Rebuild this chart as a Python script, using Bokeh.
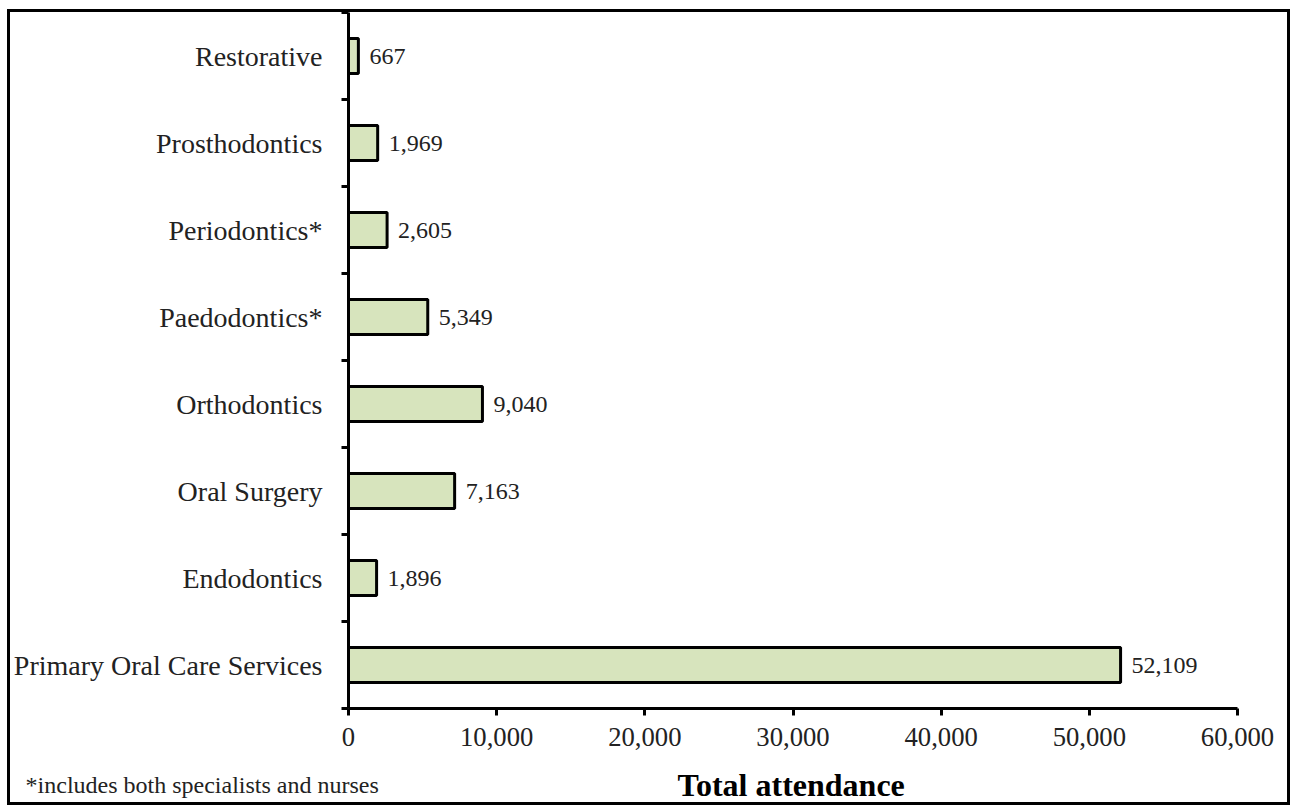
from bokeh.plotting import figure
from bokeh.layouts import column
from bokeh.models import (Range1d, FixedTicker, NumeralTickFormatter, Label,
                          ColumnDataSource)
from bokeh.core.properties import value
from bokeh.embed import file_html
from bokeh.resources import INLINE

# ---- data (bottom to top) ----
categories = ["Primary Oral Care Services", "Endodontics", "Oral Surgery",
              "Orthodontics", "Paedodontics*", "Periodontics*",
              "Prosthodontics", "Restorative"]
attendance = [52109, 1896, 7163, 9040, 5349, 2605, 1969, 667]
x_ticks = [0, 10000, 20000, 30000, 40000, 50000, 60000]
x_title = "Total attendance"
footnote = "*includes both specialists and nurses"

FONT = "Liberation Serif"
n = len(categories)
centers = [i + 0.5 for i in range(n)]
bounds = [i for i in range(n + 1)]

src = ColumnDataSource(dict(
    y=centers, v=attendance,
    lbl=[f"{a:,}" for a in attendance],
))

W = 1283
p = figure(width=W, height=754, output_backend="svg", toolbar_location=None,
           x_range=Range1d(0, 60000), y_range=Range1d(0, n),
           min_border_left=338, min_border_right=56, min_border_top=0,
           min_border_bottom=58)
p.frame_align = False
p.styles = {"border": "3px solid black", "border-bottom": "none"}
p.outline_line_color = None
p.xgrid.visible = False
p.ygrid.visible = False

p.hbar(y="y", right="v", left=0, height=0.4, source=src,
       fill_color="#D7E4BD", line_color="black", line_width=3)
p.text(x="v", y="y", text="lbl", source=src, x_offset=11,
       text_baseline="middle", text_align="left",
       text_font=value(FONT), text_font_size="18pt", text_color="#222222")

# x axis
xa = p.xaxis[0]
xa.ticker = FixedTicker(ticks=x_ticks)
xa.formatter = NumeralTickFormatter(format="0,0")
xa.axis_line_width = 3
xa.major_tick_line_width = 3
xa.major_tick_out = 7
xa.major_tick_in = 0
xa.minor_tick_line_color = None
xa.major_label_text_font = FONT
xa.major_label_text_font_size = "20pt"
xa.major_label_text_color = "#222222"
xa.major_label_standoff = 12

# y axis: labels at centers, ticks at boundaries
ya = p.yaxis[0]
ya.ticker = FixedTicker(ticks=centers, minor_ticks=bounds)
ya.major_label_overrides = {c: name for c, name in zip(centers, categories)}
ya.axis_line_width = 3
ya.major_tick_out = 0
ya.major_tick_in = 0
ya.major_tick_line_color = None
ya.minor_tick_line_width = 3
ya.minor_tick_out = 7
ya.minor_tick_in = 0
ya.major_label_text_font = FONT
ya.major_label_text_font_size = "21pt"
ya.major_label_text_color = "#222222"
ya.major_label_standoff = 19

# bottom strip holding the axis title and footnote
H2 = 42
p2 = figure(width=W, height=H2, output_backend="svg", toolbar_location=None,
            x_range=Range1d(0, W - 6), y_range=Range1d(0, H2 - 3),
            x_axis_location=None, y_axis_location=None, min_border=0)
p2.frame_align = False
p2.styles = {"border": "3px solid black", "border-top": "none"}
p2.outline_line_color = None
p2.xgrid.visible = False
p2.ygrid.visible = False
p2.add_layout(Label(x=15, y=19, text=footnote, text_font=FONT,
                    text_font_size="18pt", text_baseline="alphabetic",
                    text_color="#222222"))
p2.add_layout(Label(x=777, y=19, text=x_title, text_font=FONT,
                    text_font_size="24pt", text_font_style="bold",
                    text_align="center", text_baseline="alphabetic",
                    text_color="black"))

layout = column(p, p2, spacing=0)
layout.styles = {"margin-left": "7px", "margin-top": "9px"}

open("out.html", "w").write(file_html(layout, INLINE))
